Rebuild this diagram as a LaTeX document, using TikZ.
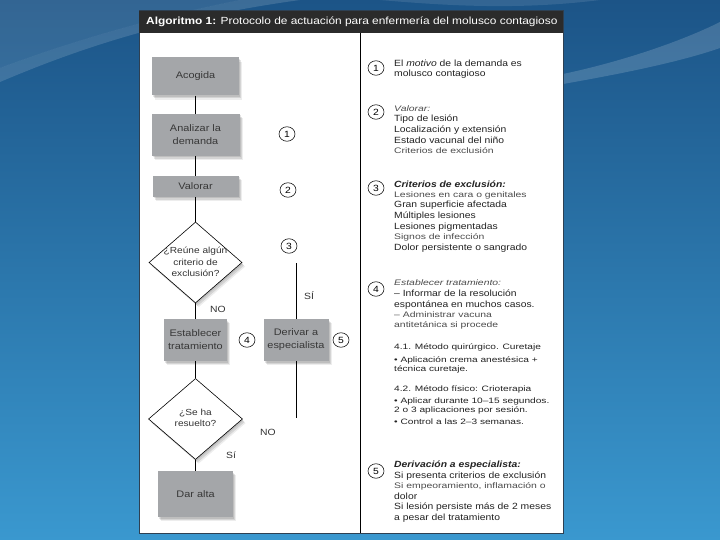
\documentclass[tikz,border=0pt]{standalone}
\usepackage{fontspec}
\setmainfont{Liberation Sans}[FakeStretch=1.15]
\newfontfamily\thinfont{Liberation Sans}[FakeStretch=1.3]
\usetikzlibrary{shapes.geometric}
\definecolor{bgtop}{HTML}{1C5487}
\definecolor{bgbot}{HTML}{3A98CF}
\definecolor{boxgray}{HTML}{A4A6A9}
\definecolor{hdr}{HTML}{2B2B2B}
\definecolor{frame}{HTML}{2E4052}
\definecolor{ink}{HTML}{222222}
\tikzset{
  softshadow/.style={
    preaction={fill=black, opacity=0.10, transform canvas={xshift=1pt, yshift=-1.5pt}},
    preaction={fill=black, opacity=0.10, transform canvas={xshift=2.2pt, yshift=-3pt}},
    preaction={fill=black, opacity=0.07, transform canvas={xshift=3.2pt, yshift=-4.2pt}}},
  gbox/.style={softshadow, fill=boxgray, draw=none, align=center, inner sep=0pt,
    text=black!78, font=\fontsize{9.5}{13}\selectfont},
  dia/.style={diamond, softshadow, draw=black, line width=0.6pt, fill=white, inner sep=0pt},
  diatext/.style={align=center, inner sep=0pt, text=black!80, font=\fontsize{8.8}{11.5}\selectfont},
  num/.style={ellipse, draw=black, line width=0.55pt, fill=white, inner sep=0pt,
    minimum width=16pt, minimum height=14.5pt, font=\fontsize{9}{10}\selectfont},
  lbl/.style={inner sep=0pt, text=black!80, font=\fontsize{9}{10}\selectfont},
  rt/.style={anchor=mid west, inner sep=0pt, text=ink, font=\fontsize{9}{10}\selectfont},
  rthin/.style={anchor=mid west, inner sep=0pt, text=black!70, font=\thinfont\fontsize{8}{9}\selectfont},
  rsmall/.style={anchor=mid west, inner sep=0pt, text=ink, font=\thinfont\fontsize{7.8}{9}\selectfont},
  conn/.style={draw=black, line width=0.6pt}
}
\begin{document}
\begin{tikzpicture}[x=1pt, y=-1pt]
\useasboundingbox (0,0) rectangle (720,540);
% background
\shade[top color=bgtop, bottom color=bgbot] (0,0) rectangle (720,540);
\fill[white, opacity=0.14] (0,82) .. controls (80,48) and (170,18) .. (300,0) -- (240,0) .. controls (150,18) and (70,42) .. (0,68) -- cycle;
\fill[white, opacity=0.10] (0,68) .. controls (70,42) and (150,18) .. (240,0) -- (0,0) -- cycle;
\fill[white, opacity=0.16] (563,74) .. controls (620,62) and (680,42) .. (720,22) -- (720,48) .. controls (680,62) and (620,74) .. (563,84) -- cycle;
\fill[white, opacity=0.10] (380,0) .. controls (450,6) and (520,10) .. (600,0) -- cycle;
% panel
\draw[frame, line width=1pt, fill=white] (139,11) rectangle (563,533);
\fill[hdr] (139,11) rectangle (563,33);
\node[anchor=west, inner sep=0pt, text=white, font=\fontsize{10.35}{12}\selectfont] (title) at (146,22)
  {\textbf{Algoritmo 1:} Protocolo de actuación para enfermería del molusco contagioso};
\coordinate (divtop) at (360,33);
\coordinate (divbot) at (360,533);
\draw[line width=0.6pt] (divtop) -- (divbot);

% flowchart
\node[gbox, minimum width=87pt, minimum height=38pt] (acog) at (195.5,76.5) {Acogida};
\node[gbox, minimum width=88pt, minimum height=42pt] (anal) at (195.5,135) {Analizar la\\demanda};
\node[gbox, minimum width=86pt, minimum height=21pt] (valo) at (195.5,186.5) {Valorar};
\node[dia, minimum width=93pt, minimum height=81pt] (d1) at (195.5,262.5) {};
\node[diatext] (d1t) at (195.5,262) {¿Reúne algún\\criterio de\\exclusión?};
\node[gbox, minimum width=63pt, minimum height=42pt] (estab) at (195.5,340) {Establecer\\tratamiento};
\node[gbox, minimum width=65pt, minimum height=42pt] (deriv) at (296,340) {Derivar a\\especialista};
\node[dia, minimum width=94pt, minimum height=81pt] (d2) at (195.5,419) {};
\node[diatext] (d2t) at (195.5,418) {¿Se ha\\resuelto?};
\node[gbox, minimum width=75pt, minimum height=46pt] (alta) at (195.5,494) {Dar alta};
\coordinate (rtop) at (296,263);
\coordinate (rbot) at (296,418);

\draw[conn] (acog) -- (anal);
\draw[conn] (anal) -- (valo);
\draw[conn] (valo) -- (d1);
\draw[conn] (d1) -- (estab);
\draw[conn] (estab) -- (d2);
\draw[conn] (d2) -- (alta);
\draw[conn] (rtop) -- (deriv);
\draw[conn] (deriv) -- (rbot);

\node[lbl] (no1) at (218,309) {NO};
\node[lbl] (si1) at (309,296) {SÍ};
\node[lbl] (no2) at (268,432) {NO};
\node[lbl] (si2) at (231,455) {Sí};

\node[num] (c1) at (287,134) {1};
\node[num] (c2) at (288,190) {2};
\node[num] (c3) at (289,246) {3};
\node[num] (c4) at (247,340) {4};
\node[num] (c5) at (341,340) {5};

% right column
\node[num] (r1) at (376,68) {1};
\node[num] (r2) at (376,112) {2};
\node[num] (r3) at (376,188) {3};
\node[num] (r4) at (376,289) {4};
\node[num] (r5) at (376,471) {5};

\node[rt] (a1) at (394,63.5) {El \textit{motivo} de la demanda es};
\node[rt] (a2) at (394,74) {molusco contagioso};

\node[rthin] (b0) at (394,108.5) {\textit{Valorar:}};
\node[rt] (b1) at (394,119) {Tipo de lesión};
\node[rt] (b2) at (394,130) {Localización y extensión};
\node[rt] (b3) at (394,140.5) {Estado vacunal del niño};
\node[rthin] (b4) at (394,151) {Criterios de exclusión};

\node[rt] (c0) at (394,184.5) {\textbf{\textit{Criterios de exclusión:}}};
\node[rthin] (cl1) at (394,194.5) {Lesiones en cara o genitales};
\node[rt] (cl2) at (394,205) {Gran superficie afectada};
\node[rt] (cl3) at (394,216) {Múltiples lesiones};
\node[rt] (cl4) at (394,226.5) {Lesiones pigmentadas};
\node[rthin] (cl5) at (394,237) {Signos de infección};
\node[rt] (cl6) at (394,248) {Dolor persistente o sangrado};

\node[rthin] (e0) at (394,283) {\textit{Establecer tratamiento:}};
\node[rt] (e1) at (394,293.5) {– Informar de la resolución};
\node[rt] (e2) at (394,304.5) {espontánea en muchos casos.};
\node[rthin] (e3) at (394,314.5) {– Administrar vacuna};
\node[rthin] (e4) at (394,325) {antitetánica si procede};
\node[rsmall] (e5) at (394,346.5) {4.1. Método quirúrgico. Curetaje};
\node[rsmall] (e6) at (394,359.5) {• Aplicación crema anestésica +};
\node[rsmall] (e7) at (394,368.5) {técnica curetaje.};
\node[rsmall] (e8) at (394,388.5) {4.2. Método físico: Crioterapia};
\node[rsmall] (e9) at (394,400.5) {• Aplicar durante 10–15 segundos.};
\node[rsmall] (e10) at (394,409.5) {2 o 3 aplicaciones por sesión.};
\node[rsmall] (e11) at (394,421.5) {• Control a las 2–3 semanas.};

\node[rt] (f0) at (394,464.5) {\textbf{\textit{Derivación a especialista:}}};
\node[rt] (f1) at (394,475.5) {Si presenta criterios de exclusión};
\node[rthin] (f2) at (394,486) {Si empeoramiento, inflamación o};
\node[rt] (f3) at (394,496.5) {dolor};
\node[rt] (f4) at (394,507) {Si lesión persiste más de 2 meses};
\node[rt] (f5) at (394,518) {a pesar del tratamiento};
\end{tikzpicture}
\end{document}
